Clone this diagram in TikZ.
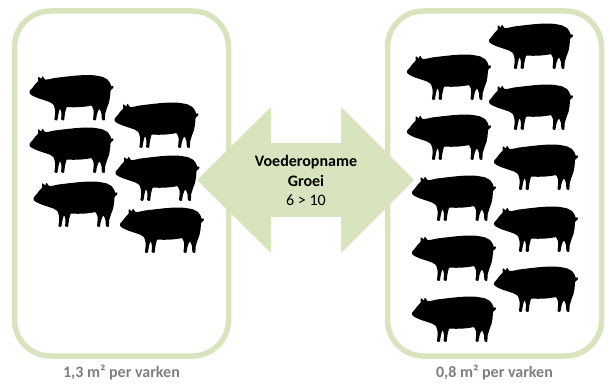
\documentclass[tikz,border=0pt]{standalone}
\usepackage{fontspec}
\setmainfont{Carlito}
\definecolor{boxgreen}{HTML}{D7E4BD}
\definecolor{labelgrey}{HTML}{7F7F7F}

\tikzset{
  x=1pt, y=-1pt,
  pen/.style={draw=boxgreen, line width=5.5pt, rounded corners=36pt,
              minimum width=214pt, minimum height=345pt, inner sep=0pt},
  penlabel/.style={text=labelgrey, font=\fontsize{16}{19}\selectfont\bfseries,
                   anchor=base, inner sep=0pt},
  % pig silhouette facing left, about 84 x 46 units, centred on its position
  pigshape/.pic={
    \fill[black, rounded corners=0.7pt, shift={(-42,-21)}]
      % snout and jaw
      (2,12.5) -- (0,14.5) -- (0.3,17.5) -- (3.5,19.5) -- (8,21.5)
      -- (14,23.5) -- (20,25.5) -- (24,28)
      % front legs
      -- (25.5,33) -- (25.5,39) -- (24.8,43.5) -- (27.8,44) -- (28.8,38)
      -- (30,33) -- (31,32.5) -- (32,37) -- (31.6,43.5) -- (34.6,44)
      -- (35.5,36.5) -- (37,30.5)
      % belly
      -- (44,30.8) -- (52,30.5) -- (58,29.8) -- (62,29)
      % hind legs
      -- (64,33) -- (64,39) -- (63.4,43.5) -- (66.4,44) -- (67.5,37.5)
      -- (69,33.5) -- (70.2,32.5) -- (72,37) -- (72.4,43.5) -- (75.4,44)
      -- (75.6,37.5) -- (77.6,31)
      % rump and tail
      -- (79.5,26) -- (80.6,20) -- (81,14) -- (82.4,12.5) -- (84,11.5)
      -- (83.6,9) -- (81.8,10.2) -- (80.6,6.5) -- (78,3) -- (73,0.3)
      % back
      -- (65,-1.2) -- (55,-1.5) -- (45,-0.8) -- (35,0.3) -- (25,1.5)
      -- (19,2.8)
      % ears and forehead
      -- (15.5,3.2) -- (13,-0.6) -- (11.8,2.4) -- (8.6,0) -- (8.8,4.6)
      -- (5.8,7.6) -- (3.6,10.5) -- cycle;
  },
}

\begin{document}
\begin{tikzpicture}
\useasboundingbox (0,0) rectangle (610,385);

% the two pens
\node[pen] (penL) at (121.5,183.5) {};
\node[pen] (penR) at (494.5,183.5) {};

% pigs in the left pen
\pic at (71.5,97.5)  {pigshape};
\pic at (156.5,125)  {pigshape};
\pic at (71.5,150)   {pigshape};
\pic at (157.5,178)  {pigshape};
\pic at (75.5,204)   {pigshape};
\pic at (162,230)    {pigshape};

% pigs in the right pen
\pic at (531,46)  {pigshape};
\pic at (449,77)  {pigshape};
\pic at (531,107) {pigshape};
\pic at (449,137) {pigshape};
\pic at (536,167) {pigshape};
\pic at (454,198) {pigshape};
\pic at (536,229) {pigshape};
\pic at (454,258) {pigshape};
\pic at (536,289) {pigshape};
\pic at (454,319) {pigshape};

% double-headed arrow between the pens
\fill[boxgreen] (197,180) -- (271,107) -- (271,143) -- (341,143) -- (341,107)
  -- (414,180) -- (341,253) -- (341,217) -- (271,217) -- (271,253) -- cycle;
\node[align=center, inner sep=0pt, font=\fontsize{16}{19.5}\selectfont]
  (effect) at (306,180.5) {\textbf{Voederopname}\\\textbf{Groei}\\6 > 10};

% space per pig
\node[penlabel] (labL) at (121.5,377) {1,3 m² per varken};
\node[penlabel] (labR) at (494.5,377) {0,8 m² per varken};
\end{tikzpicture}
\end{document}
